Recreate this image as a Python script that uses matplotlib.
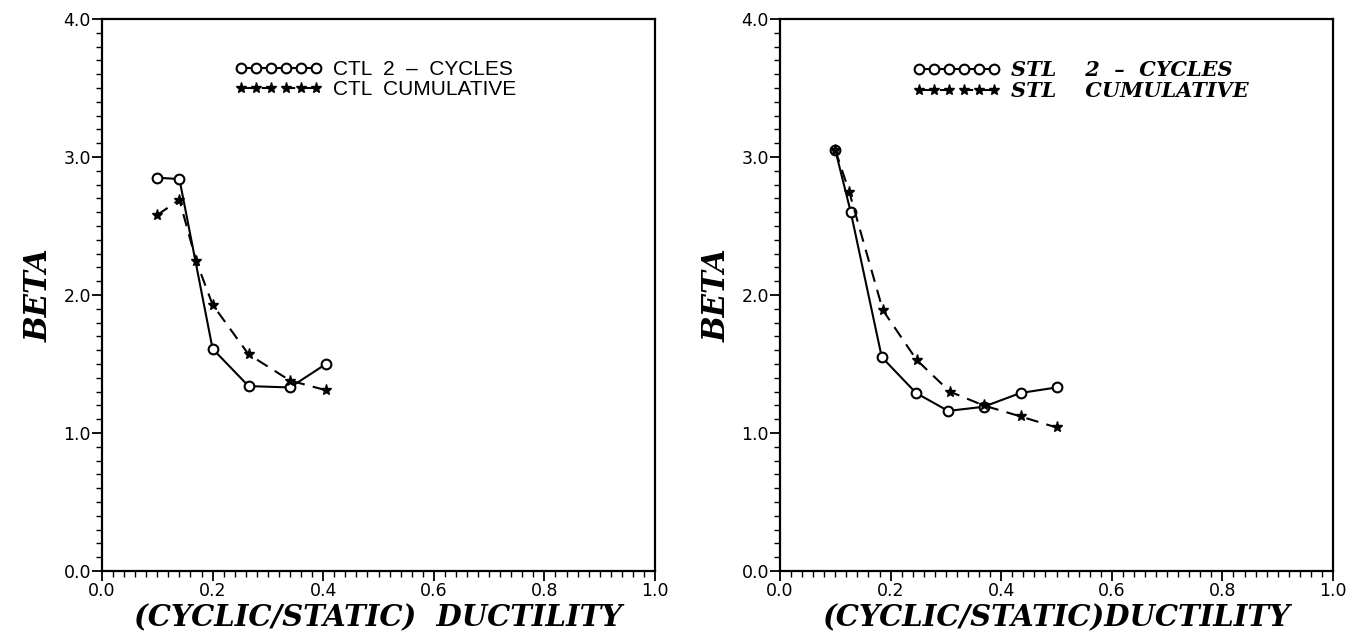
import numpy as np
import matplotlib.pyplot as plt
from matplotlib.ticker import MultipleLocator

# CTL panel
ctl_x = [0.10, 0.14, 0.20, 0.265, 0.34, 0.405]
ctl_cyc = [2.85, 2.84, 1.61, 1.34, 1.33, 1.50]
ctl_cum_x = [0.10, 0.14, 0.17, 0.20, 0.265, 0.34, 0.405]
ctl_cum = [2.58, 2.69, 2.25, 1.93, 1.57, 1.38, 1.31]

# STL panel
stl_x = [0.10, 0.128, 0.184, 0.246, 0.304, 0.368, 0.435, 0.50]
stl_cyc = [3.05, 2.60, 1.55, 1.29, 1.16, 1.19, 1.29, 1.33]
stl_cum_x = [0.10, 0.125, 0.186, 0.247, 0.307, 0.368, 0.435, 0.50]
stl_cum = [3.05, 2.75, 1.89, 1.53, 1.30, 1.20, 1.12, 1.04]

W, H = 1353, 637
fig = plt.figure(figsize=(W / 100, H / 100), dpi=100)

serif_bi = dict(family='DejaVu Serif', weight='bold', style='italic')


def setup(ax, xlabel):
    ax.set_xlim(0, 1.0)
    ax.set_ylim(0, 4.0)
    ax.xaxis.set_major_locator(MultipleLocator(0.2))
    ax.xaxis.set_minor_locator(MultipleLocator(0.02))
    ax.yaxis.set_major_locator(MultipleLocator(1.0))
    ax.yaxis.set_minor_locator(MultipleLocator(0.1))
    ax.xaxis.set_major_formatter(plt.FormatStrFormatter('%.1f'))
    ax.yaxis.set_major_formatter(plt.FormatStrFormatter('%.1f'))
    ax.tick_params(which='major', direction='out', length=7, width=1.3,
                   labelsize=12.5, pad=1)
    ax.tick_params(which='minor', direction='out', length=4, width=1.0)
    for s in ax.spines.values():
        s.set_linewidth(1.6)
    ax.set_ylabel('BETA', fontsize=22, labelpad=6, **serif_bi)
    ax.set_xlabel(xlabel, fontsize=21, labelpad=2, **serif_bi)


def panel(ax, x1, y1, x2, y2, lab1, lab2, legfont):
    ax.plot(x1, y1, '-', color='black', lw=1.5, marker='o', ms=7,
            mfc='white', mec='black', mew=1.5, label=lab1)
    ax.plot(x2, y2, color='black', lw=1.5, ls=(0, (6, 4)), marker='*', ms=8,
            mec='black', mfc='black', label=lab2)
    ax.legend(loc='upper left', bbox_to_anchor=(0.24, 0.925), frameon=False,
              numpoints=6, handlelength=4.2, handletextpad=0.5,
              labelspacing=0.05, borderpad=0, borderaxespad=0, prop=legfont)


ax1 = fig.add_axes([102 / W, (H - 571) / H, 553 / W, 552 / H])
setup(ax1, '(CYCLIC/STATIC)  DUCTILITY')
panel(ax1, ctl_x, ctl_cyc, ctl_cum_x, ctl_cum,
      'CTL  2  \u2013  CYCLES', 'CTL  CUMULATIVE',
      dict(family='Liberation Sans', size=15))

ax2 = fig.add_axes([780 / W, (H - 571) / H, 553 / W, 552 / H])
setup(ax2, '(CYCLIC/STATIC)DUCTILITY')
panel(ax2, stl_x, stl_cyc, stl_cum_x, stl_cum,
      'STL    2  \u2013  CYCLES', 'STL    CUMULATIVE',
      dict(family='DejaVu Serif', weight='bold', style='italic', size=15))

fig.savefig('out.png', dpi=100)
